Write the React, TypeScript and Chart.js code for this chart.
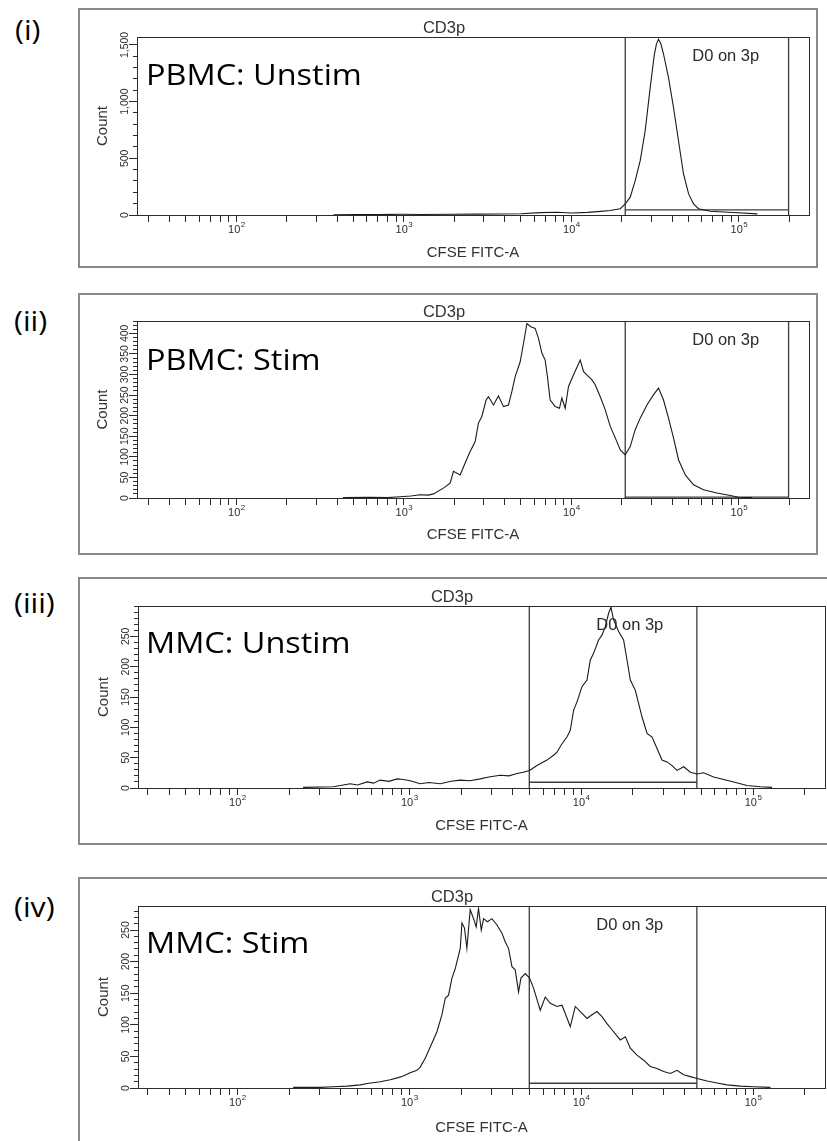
import React, { useEffect, useRef } from "react";
import { Chart, registerables } from "chart.js";

Chart.register(...registerables);

type Pair = [number, number];

// ---------------- text ----------------
const panelTags = ["(i)", "(ii)", "(iii)", "(iv)"];
const sampleNames = ["PBMC: Unstim", "PBMC: Stim", "MMC: Unstim", "MMC: Stim"];
const plotTitle = "CD3p";
const gateName = "D0 on 3p";
const xAxisTitle = "CFSE FITC-A";
const yAxisTitle = "Count";

// ---------------- x axis ticks ----------------
const xDecades = [10, 100, 1000, 10000, 100000];
const xMultipliers = [1, 2, 3, 4, 5, 6, 7, 8, 9];
const xLabelDecades = [100, 1000, 10000, 100000];
const xLabelExponents = ["2", "3", "4", "5"];
const xRanges: Pair[] = [[25.5, 262144], [25.5, 262144], [26.4, 262144], [26.4, 262144]];

// ---------------- y axis ticks ----------------
const yTicksI = [0, 500, 1000, 1500];
const yLabelsI = ["0", "500", "1,000", "1,500"];
const yTicksII = [0, 50, 100, 150, 200, 250, 300, 350, 400];
const yLabelsII = ["0", "50", "100", "150", "200", "250", "300", "350", "400"];
const yTicksIII = [0, 50, 100, 150, 200, 250];
const yLabelsIII = ["0", "50", "100", "150", "200", "250"];
const yTicksIV = [0, 50, 100, 150, 200, 250];
const yLabelsIV = ["0", "50", "100", "150", "200", "250"];
const yMinorSteps = [100, 10, 10, 10];
const yMaxes = [1570, 430, 300, 288];

// ---------------- gates (D0 on 3p) ----------------
const gateRanges: Pair[] = [[20960, 198000], [20960, 198000], [4990, 47100], [4990, 47100]];
const gateBarLevels = [46, 2, 9.5, 7.5];

// ---------------- histograms: [CFSE FITC-A, count] ----------------
const pbmcUnstim: Pair[] = [
  [380, 2], [520, 4], [700, 3], [950, 6], [1300, 5], [1900, 7], [2700, 8], [3750, 9],
  [5000, 11], [6500, 21], [8200, 24], [10000, 17], [12500, 23], [14900, 32], [17000, 40],
  [19580, 55], [20960, 98], [22450, 157], [24040, 303], [25750, 479], [27580, 743],
  [29540, 1124], [31240, 1411], [32200, 1510], [33130, 1550], [34200, 1510], [35480, 1420],
  [38000, 1212], [40700, 948], [43590, 655], [46690, 362], [50100, 186], [53600, 98],
  [57400, 55], [67400, 33], [92600, 22], [128900, 10],
];

const pbmcStim: Pair[] = [
  [433, 1], [628, 2], [800, 1], [949, 3], [1100, 5], [1249, 8], [1400, 7], [1501, 10],
  [1722, 24], [1888, 36], [1977, 65], [2167, 56], [2321, 85], [2486, 113], [2663, 137],
  [2786, 182], [2919, 198], [3097, 238], [3197, 246], [3425, 226], [3669, 248], [3931, 222],
  [4211, 226], [4413, 259], [4617, 295], [4946, 331], [5178, 376], [5425, 424], [5729, 416],
  [6078, 412], [6360, 388], [6664, 352], [6973, 335], [7195, 295], [7468, 238], [8000, 222],
  [8487, 218], [8769, 243], [9183, 218], [9609, 271], [10290, 299], [11290, 335],
  [11820, 307], [12660, 295], [13260, 287], [13870, 275], [14870, 246], [15930, 214],
  [17060, 174], [18280, 146], [19580, 117], [20960, 105], [22450, 125], [24040, 166],
  [25750, 194], [28250, 226], [30930, 251], [33130, 267], [35480, 238], [38000, 194],
  [40700, 146], [43590, 93], [47850, 56], [53600, 32], [61480, 20], [73920, 12], [88830, 6],
  [99620, 2], [120000, 1],
];

const mmcUnstim: Pair[] = [
  [241, 1], [361, 2], [453, 7], [500, 5], [569, 10], [620, 8], [677, 13], [760, 11],
  [851, 15], [920, 14], [1012, 12], [1157, 7], [1300, 9], [1513, 7], [1750, 11], [1979, 13],
  [2250, 12], [2587, 15], [2900, 18], [3383, 21], [3800, 20], [4230, 24], [4600, 26],
  [5008, 29], [5531, 37], [6325, 46], [6907, 54], [7229, 59], [7730, 73], [8265, 84],
  [8641, 95], [9035, 128], [9455, 142], [10110, 167], [10810, 178], [11300, 211],
  [11810, 222], [12630, 244], [13210, 252], [13810, 266], [14440, 288], [14900, 298],
  [15440, 277], [16510, 258], [17650, 244], [18480, 211], [19320, 178], [20660, 161],
  [21590, 139], [22600, 117], [24170, 90], [25840, 84], [27620, 65], [29530, 46],
  [31570, 43], [33770, 37], [36100, 29], [39480, 35], [43170, 26], [47220, 23], [51550, 25],
  [59000, 18], [67440, 14], [77130, 10], [92270, 4], [110300, 2], [129000, 1],
];

const mmcStim: Pair[] = [
  [211, 1], [303, 1], [361, 2], [435, 3], [518, 5], [569, 7], [677, 10], [775, 13],
  [851, 16], [922, 19], [1012, 24], [1107, 28], [1157, 33], [1238, 47], [1324, 65],
  [1448, 89], [1549, 116], [1619, 142], [1692, 147], [1771, 174], [1851, 189], [1979, 221],
  [2024, 261], [2095, 253], [2163, 221], [2261, 282], [2365, 268], [2450, 255], [2527, 284],
  [2623, 250], [2705, 268], [2853, 263], [3025, 268], [3236, 258], [3460, 245], [3617, 231],
  [3779, 221], [3956, 192], [4132, 187], [4321, 152], [4462, 174], [4728, 181], [5008, 174],
  [5282, 158], [5780, 123], [6182, 144], [6610, 134], [7229, 129], [7730, 131], [8080, 118],
  [8641, 97], [9240, 129], [10110, 118], [10810, 110], [11560, 116], [12360, 121],
  [13210, 113], [14130, 102], [15440, 89], [16890, 76], [18060, 81], [19320, 63],
  [21120, 52], [23090, 44], [25250, 34], [27620, 31], [30190, 26], [33020, 23], [36100, 28],
  [39480, 21], [43170, 18], [47220, 15], [53990, 11], [61700, 8], [70560, 5], [84400, 3],
  [100800, 2], [126200, 1],
];

const seriesList = [pbmcUnstim, pbmcStim, mmcUnstim, mmcStim];
const yTickLists = [yTicksI, yTicksII, yTicksIII, yTicksIV];
const yLabelLists = [yLabelsI, yLabelsII, yLabelsIII, yLabelsIV];

// ---------------- layout (page pixels) ----------------
type Box = { left: number; top: number; width: number; height: number };
type Area = { left: number; top: number; right: number; bottom: number };
type PanelLayout = {
  box: Box;
  area: Area;
  xTitleOffset: number;
  tag: { left: number; top: number };
  name: { left: number; top: number };
};

const layouts: PanelLayout[] = [
  { box: { left: 78, top: 8, width: 740, height: 260 }, area: { left: 137, top: 37, right: 809, bottom: 215 }, xTitleOffset: 37.5, tag: { left: 15, top: 16.4 }, name: { left: 146, top: 58.8 } },
  { box: { left: 78, top: 293, width: 740, height: 262 }, area: { left: 137, top: 321, right: 809, bottom: 498 }, xTitleOffset: 37, tag: { left: 14, top: 307 }, name: { left: 146, top: 343.8 } },
  { box: { left: 78, top: 577, width: 760, height: 268 }, area: { left: 138, top: 606, right: 825, bottom: 788 }, xTitleOffset: 38, tag: { left: 14, top: 589.4 }, name: { left: 146, top: 627.1 } },
  { box: { left: 78, top: 877, width: 760, height: 272 }, area: { left: 138, top: 906, right: 825, bottom: 1088 }, xTitleOffset: 40, tag: { left: 14, top: 893.4 }, name: { left: 146, top: 927.1 } },
];

const FONT = '"Liberation Sans", Arial, Helvetica, sans-serif';
const INK = "#2b2b2b";

function HistogramPanel({ index }: { index: number }) {
  const ref = useRef<HTMLCanvasElement | null>(null);
  const L = layouts[index];
  const cw = L.box.width - 2;
  const ch = L.box.height - 2;
  const ox = L.box.left + 1;
  const oy = L.box.top + 1;

  useEffect(() => {
    const canvas = ref.current;
    if (!canvas) return;
    const area = {
      left: L.area.left - ox,
      top: L.area.top - oy,
      right: L.area.right - ox,
      bottom: L.area.bottom - oy,
    };
    const [xMin, xMax] = xRanges[index];
    const yMax = yMaxes[index];
    const yMajor = yTickLists[index];
    const yLabels = yLabelLists[index];
    const step = yMinorSteps[index];
    const series = seriesList[index];
    const [gLo, gHi] = gateRanges[index];
    const gBar = gateBarLevels[index];

    const xTicks: number[] = [];
    xDecades.forEach((d) => xMultipliers.forEach((m) => {
      const v = d * m;
      if (v >= xMin && v <= xMax) xTicks.push(v);
    }));
    const yTicks: number[] = [];
    for (let v = 0; v <= yMax; v += step) yTicks.push(v);

    const gatePath = [
      { x: gLo, y: yMax }, { x: gLo, y: 0 }, { x: gLo, y: gBar },
      { x: gHi, y: gBar }, { x: gHi, y: 0 }, { x: gHi, y: yMax },
    ];

    const decor = {
      id: "flowDecor" + index,
      afterDraw(chart: any) {
        const ctx = chart.ctx as CanvasRenderingContext2D;
        const a = chart.chartArea;
        const xs = chart.scales.x;
        const ys = chart.scales.y;
        ctx.save();
        // plot frame
        ctx.strokeStyle = INK;
        ctx.lineWidth = 1;
        ctx.strokeRect(a.left + 0.5, a.top + 0.5, a.right - a.left, a.bottom - a.top);
        // y tick labels (rotated)
        ctx.fillStyle = "#2e2e2e";
        ctx.font = `10.5px ${FONT}`;
        ctx.textAlign = "center";
        ctx.textBaseline = "middle";
        yMajor.forEach((v, i) => {
          const py = ys.getPixelForValue(v);
          ctx.save();
          ctx.translate(a.left - 12, py);
          ctx.rotate(-Math.PI / 2);
          ctx.fillText(yLabels[i], 0, 0);
          ctx.restore();
        });
        // x decade labels with superscripts
        ctx.textAlign = "left";
        ctx.textBaseline = "alphabetic";
        xLabelDecades.forEach((v, i) => {
          if (v < xMin || v > xMax) return;
          const px = xs.getPixelForValue(v);
          ctx.font = `11px ${FONT}`;
          const w10 = ctx.measureText("10").width;
          ctx.font = `8px ${FONT}`;
          const we = ctx.measureText(xLabelExponents[i]).width;
          const start = px - (w10 + we) / 2;
          ctx.font = `11px ${FONT}`;
          ctx.fillText("10", start, a.bottom + 18);
          ctx.font = `8px ${FONT}`;
          ctx.fillText(xLabelExponents[i], start + w10 + 0.5, a.bottom + 11.5);
        });
        // gate label
        ctx.font = `16.5px ${FONT}`;
        ctx.textBaseline = "middle";
        ctx.fillStyle = INK;
        const gx = xs.getPixelForValue(gLo);
        ctx.fillText(gateName, gx + 67, a.top + 19.5);
        ctx.restore();
      },
    };

    const chart = new Chart(canvas, {
      type: "line",
      data: {
        datasets: [
          {
            data: series.map(([x, y]) => ({ x, y })),
            borderColor: "#1a1a1a",
            borderWidth: 1.1,
            pointRadius: 0,
            tension: 0,
            fill: false,
          },
          {
            data: gatePath,
            borderColor: "#3d3d3d",
            borderWidth: 1.3,
            pointRadius: 0,
            tension: 0,
            fill: false,
          },
        ],
      },
      options: {
        animation: false,
        responsive: false,
        maintainAspectRatio: false,
        devicePixelRatio: 1,
        events: [],
        layout: { padding: { left: 0, top: 0, right: cw - area.right, bottom: 0 } },
        plugins: {
          legend: { display: false },
          tooltip: { enabled: false },
          title: {
            display: true,
            text: plotTitle,
            color: "#333",
            font: { family: FONT, size: 16.5, lineHeight: 1, weight: "normal" },
            padding: { top: area.top - 16.75, bottom: 0.25 },
          },
        },
        scales: {
          x: {
            type: "logarithmic",
            position: "bottom",
            min: xMin,
            max: xMax,
            afterFit: (s: any) => { s.height = ch - area.bottom; },
            afterBuildTicks: (s: any) => { s.ticks = xTicks.map((v) => ({ value: v })); },
            ticks: { display: false, autoSkip: false },
            grid: { drawOnChartArea: false, drawTicks: true, tickLength: 7, tickColor: INK, tickWidth: 1 },
            border: { display: false },
            title: {
              display: true,
              text: xAxisTitle,
              color: "#333",
              font: { family: FONT, size: 15, lineHeight: 1.2 },
              padding: { top: 0, bottom: ch - 9 - (area.bottom + L.xTitleOffset) },
            },
          },
          y: {
            type: "linear",
            position: "left",
            min: 0,
            max: yMax,
            afterFit: (s: any) => { s.width = area.left; },
            afterBuildTicks: (s: any) => { s.ticks = yTicks.map((v) => ({ value: v })); },
            ticks: { display: false, autoSkip: false },
            grid: {
              drawOnChartArea: false,
              drawTicks: true,
              tickLength: 8,
              tickColor: INK,
              tickWidth: 1,
              tickBorderDash: (c: any) =>
                c && c.tick && yMajor.indexOf(c.tick.value) >= 0 ? [] : [0, 4, 4, 100],
            },
            border: { display: false },
            title: {
              display: true,
              text: yAxisTitle,
              color: "#333",
              font: { family: FONT, size: 15, lineHeight: 1.2 },
              padding: { top: area.left - 34 - 9, bottom: 0 },
            },
          },
        },
      } as any,
      plugins: [decor],
    });
    return () => chart.destroy();
  }, [index]);

  return (
    <>
      <div
        style={{
          position: "absolute",
          left: L.box.left,
          top: L.box.top,
          width: L.box.width,
          height: L.box.height,
          border: "2px solid #8a8a8a",
          boxSizing: "border-box",
        }}
      />
      <canvas
        ref={ref}
        width={cw}
        height={ch}
        style={{ position: "absolute", left: ox, top: oy, width: cw, height: ch }}
      />
      <div
        style={{
          position: "absolute",
          left: L.tag.left,
          top: L.tag.top,
          fontFamily: '"Open Sans", "Noto Sans", sans-serif',
          fontSize: 27,
          lineHeight: "27px",
          color: "#000",
          whiteSpace: "nowrap",
          transform: "scaleX(1.12)",
          transformOrigin: "0 0",
        }}
      >
        {panelTags[index]}
      </div>
      <div
        style={{
          position: "absolute",
          left: L.name.left,
          top: L.name.top,
          fontFamily: '"Open Sans", "Noto Sans", sans-serif',
          fontSize: 29.5,
          lineHeight: "29.5px",
          color: "#000",
          whiteSpace: "nowrap",
          transform: "scaleX(1.1)",
          transformOrigin: "0 0",
        }}
      >
        {sampleNames[index]}
      </div>
    </>
  );
}

export default function App() {
  return (
    <div
      style={{
        position: "absolute",
        left: 0,
        top: 0,
        width: 827,
        height: 1141,
        overflow: "hidden",
        background: "#fff",
      }}
    >
      {[0, 1, 2, 3].map((i) => (
        <HistogramPanel key={i} index={i} />
      ))}
    </div>
  );
}
